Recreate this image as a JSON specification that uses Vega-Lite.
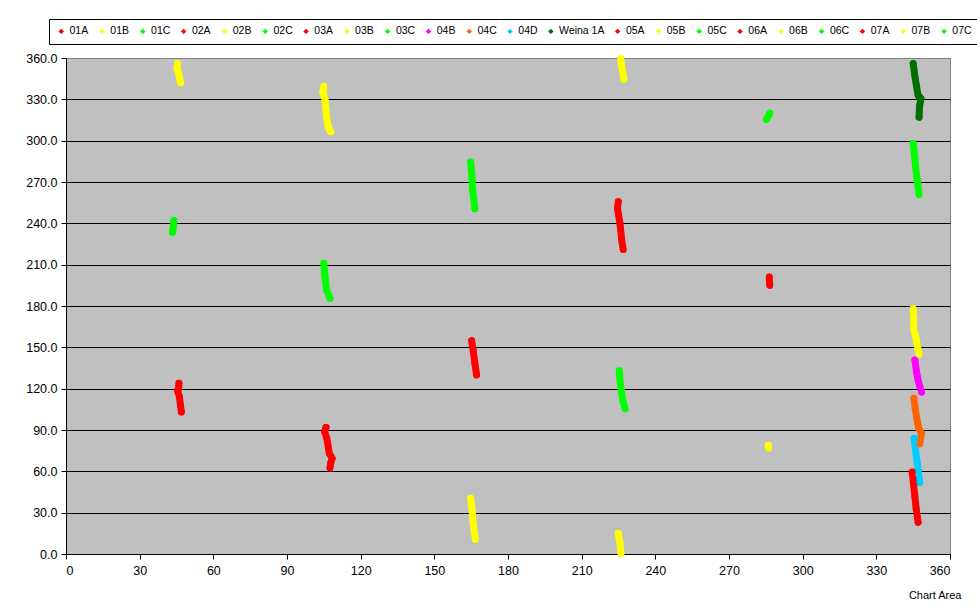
{
  "$schema": "https://vega.github.io/schema/vega-lite/v6.json",
  "width": 884,
  "height": 496,
  "autosize": {"type": "none"},
  "padding": {"left": 66, "top": 58, "right": 27, "bottom": 52},
  "background": "white",
  "config": {
    "view": {"fill": "#C0C0C0", "stroke": "#808080", "strokeWidth": 1},
    "font": "Liberation Sans"
  },
  "data": {"values": [
    {"s": "01A", "g": "01A", "x": 46.0, "y": 124},
    {"s": "01A", "g": "01A", "x": 45.9, "y": 121},
    {"s": "01A", "g": "01A", "x": 45.5, "y": 118},
    {"s": "01A", "g": "01A", "x": 46.2, "y": 114},
    {"s": "01A", "g": "01A", "x": 46.6, "y": 108},
    {"s": "01A", "g": "01A", "x": 47.0, "y": 103},
    {"s": "01B", "g": "01B", "x": 45.4, "y": 356},
    {"s": "01B", "g": "01B", "x": 45.2, "y": 352.5},
    {"s": "01B", "g": "01B", "x": 45.8, "y": 349},
    {"s": "01B", "g": "01B", "x": 46.3, "y": 345},
    {"s": "01B", "g": "01B", "x": 46.7, "y": 342},
    {"s": "01C", "g": "01C", "x": 43.9, "y": 242},
    {"s": "01C", "g": "01C", "x": 43.8, "y": 239},
    {"s": "01C", "g": "01C", "x": 43.6, "y": 236},
    {"s": "01C", "g": "01C", "x": 43.4, "y": 233.5},
    {"s": "02A", "g": "02A", "x": 105.9, "y": 92},
    {"s": "02A", "g": "02A", "x": 105.3, "y": 89},
    {"s": "02A", "g": "02A", "x": 106.2, "y": 84},
    {"s": "02A", "g": "02A", "x": 106.8, "y": 78},
    {"s": "02A", "g": "02A", "x": 107.2, "y": 73},
    {"s": "02A", "g": "02A", "x": 108.4, "y": 69.5},
    {"s": "02A", "g": "02A", "x": 107.8, "y": 66},
    {"s": "02A", "g": "02A", "x": 107.5, "y": 62.5},
    {"s": "02B", "g": "02B", "x": 105.0, "y": 339.5},
    {"s": "02B", "g": "02B", "x": 104.6, "y": 335.5},
    {"s": "02B", "g": "02B", "x": 105.5, "y": 329.5},
    {"s": "02B", "g": "02B", "x": 106.1, "y": 317.3},
    {"s": "02B", "g": "02B", "x": 106.8, "y": 310},
    {"s": "02B", "g": "02B", "x": 107.8, "y": 306.5},
    {"s": "02C", "g": "02C", "x": 105.0, "y": 211},
    {"s": "02C", "g": "02C", "x": 105.5, "y": 201.2},
    {"s": "02C", "g": "02C", "x": 106.1, "y": 191.6},
    {"s": "02C", "g": "02C", "x": 107.5, "y": 185.6},
    {"s": "03A", "g": "03A", "x": 165.2, "y": 154.8},
    {"s": "03A", "g": "03A", "x": 165.8, "y": 148},
    {"s": "03A", "g": "03A", "x": 166.5, "y": 138.4},
    {"s": "03A", "g": "03A", "x": 167.2, "y": 130},
    {"s": "03B", "g": "03B", "x": 164.8, "y": 40.4},
    {"s": "03B", "g": "03B", "x": 165.4, "y": 31.9},
    {"s": "03B", "g": "03B", "x": 165.8, "y": 22.3},
    {"s": "03B", "g": "03B", "x": 166.7, "y": 10.7},
    {"s": "03C", "g": "03C", "x": 164.8, "y": 284.5},
    {"s": "03C", "g": "03C", "x": 165.3, "y": 273.8},
    {"s": "03C", "g": "03C", "x": 165.6, "y": 264.2},
    {"s": "03C", "g": "03C", "x": 166.5, "y": 250.5},
    {"s": "04B", "g": "04B", "x": 345.7, "y": 140.8},
    {"s": "04B", "g": "04B", "x": 346.3, "y": 133},
    {"s": "04B", "g": "04B", "x": 347.0, "y": 126},
    {"s": "04B", "g": "04B", "x": 348.4, "y": 117.5},
    {"s": "04C", "g": "04C", "x": 345.3, "y": 113},
    {"s": "04C", "g": "04C", "x": 345.8, "y": 106},
    {"s": "04C", "g": "04C", "x": 346.5, "y": 98},
    {"s": "04C", "g": "04C", "x": 347.3, "y": 91},
    {"s": "04C", "g": "04C", "x": 348.4, "y": 87.6},
    {"s": "04C", "g": "04C", "x": 347.7, "y": 80},
    {"s": "04D", "g": "04D", "x": 345.4, "y": 84},
    {"s": "04D", "g": "04D", "x": 345.9, "y": 76},
    {"s": "04D", "g": "04D", "x": 346.6, "y": 67},
    {"s": "04D", "g": "04D", "x": 347.2, "y": 58},
    {"s": "04D", "g": "04D", "x": 347.7, "y": 52},
    {"s": "Weina 1A", "g": "Weina 1A", "x": 345.0, "y": 356},
    {"s": "Weina 1A", "g": "Weina 1A", "x": 345.6, "y": 348},
    {"s": "Weina 1A", "g": "Weina 1A", "x": 346.3, "y": 340},
    {"s": "Weina 1A", "g": "Weina 1A", "x": 347.0, "y": 333},
    {"s": "Weina 1A", "g": "Weina 1A", "x": 348.2, "y": 330.5},
    {"s": "Weina 1A", "g": "Weina 1A", "x": 347.6, "y": 325},
    {"s": "Weina 1A", "g": "Weina 1A", "x": 347.4, "y": 317},
    {"s": "05A", "g": "05A", "x": 224.9, "y": 255.7},
    {"s": "05A", "g": "05A", "x": 224.6, "y": 250.9},
    {"s": "05A", "g": "05A", "x": 225.6, "y": 240},
    {"s": "05A", "g": "05A", "x": 226.3, "y": 227.9},
    {"s": "05A", "g": "05A", "x": 226.9, "y": 221},
    {"s": "05B", "g": "05B top", "x": 225.9, "y": 359.5},
    {"s": "05B", "g": "05B top", "x": 226.3, "y": 354},
    {"s": "05B", "g": "05B top", "x": 226.9, "y": 348},
    {"s": "05B", "g": "05B top", "x": 227.2, "y": 344.5},
    {"s": "05B", "g": "05B bottom", "x": 224.9, "y": 15},
    {"s": "05B", "g": "05B bottom", "x": 225.6, "y": 7.8},
    {"s": "05B", "g": "05B bottom", "x": 226.0, "y": 0.5},
    {"s": "05C", "g": "05C", "x": 225.3, "y": 133},
    {"s": "05C", "g": "05C", "x": 225.6, "y": 126},
    {"s": "05C", "g": "05C", "x": 226.2, "y": 118},
    {"s": "05C", "g": "05C", "x": 226.8, "y": 111},
    {"s": "05C", "g": "05C", "x": 227.7, "y": 105.5},
    {"s": "06A", "g": "06A", "x": 286.4, "y": 201},
    {"s": "06A", "g": "06A", "x": 286.5, "y": 197.5},
    {"s": "06A", "g": "06A", "x": 286.6, "y": 195},
    {"s": "06B", "g": "06B", "x": 286.0, "y": 79},
    {"s": "06B", "g": "06B", "x": 286.1, "y": 77},
    {"s": "06C", "g": "06C", "x": 286.6, "y": 320},
    {"s": "06C", "g": "06C", "x": 286.0, "y": 317.5},
    {"s": "06C", "g": "06C", "x": 285.2, "y": 315.5},
    {"s": "07A", "g": "07A", "x": 344.6, "y": 59.5},
    {"s": "07A", "g": "07A", "x": 345.2, "y": 50},
    {"s": "07A", "g": "07A", "x": 345.7, "y": 42},
    {"s": "07A", "g": "07A", "x": 346.2, "y": 33},
    {"s": "07A", "g": "07A", "x": 346.7, "y": 27},
    {"s": "07A", "g": "07A", "x": 347.0, "y": 23},
    {"s": "07B", "g": "07B", "x": 345.0, "y": 178},
    {"s": "07B", "g": "07B", "x": 345.3, "y": 170},
    {"s": "07B", "g": "07B", "x": 345.1, "y": 164},
    {"s": "07B", "g": "07B", "x": 346.2, "y": 156},
    {"s": "07B", "g": "07B", "x": 346.9, "y": 149},
    {"s": "07B", "g": "07B", "x": 347.4, "y": 145},
    {"s": "07C", "g": "07C", "x": 345.0, "y": 298},
    {"s": "07C", "g": "07C", "x": 345.5, "y": 290},
    {"s": "07C", "g": "07C", "x": 346.0, "y": 281},
    {"s": "07C", "g": "07C", "x": 346.6, "y": 272},
    {"s": "07C", "g": "07C", "x": 347.4, "y": 261}
  ]},
  "encoding": {
    "x": {"field": "x", "type": "quantitative",
      "scale": {"domain": [0, 360], "nice": false, "zero": false},
      "axis": {"title": "Chart Area", "titleAnchor": null, "titleX": 895, "titleY": 44, "titleAlign": "right", "titleBaseline": "alphabetic",
        "titleFont": "Liberation Sans", "titleFontSize": 11, "titleFontWeight": "normal", "titleColor": "black",
        "values": [0, 30, 60, 90, 120, 150, 180, 210, 240, 270, 300, 330, 360], "format": "d", "grid": false,
        "domainColor": "black", "tickColor": "black", "tickSize": 5, "labelPadding": 5,
        "labelFont": "Liberation Sans", "labelFontSize": 12.5, "labelColor": "black"}},
    "y": {"field": "y", "type": "quantitative",
      "scale": {"domain": [0, 360], "nice": false, "zero": false},
      "axis": {"title": null, "values": [0, 30, 60, 90, 120, 150, 180, 210, 240, 270, 300, 330, 360], "format": ".1f", "grid": true,
        "gridColor": {"condition": {"test": "datum.value === 360", "value": "#808080"}, "value": "black"},
        "gridOpacity": 1, "gridWidth": 1,
        "domainColor": "black", "tickColor": "black", "tickSize": 5, "labelPadding": 4,
        "labelFont": "Liberation Sans", "labelFontSize": 12.5, "labelColor": "black"}},
    "color": {"field": "s", "type": "nominal",
      "scale": {
        "domain": ["01A", "01B", "01C", "02A", "02B", "02C", "03A", "03B", "03C", "04B", "04C", "04D", "Weina 1A", "05A", "05B", "05C", "06A", "06B", "06C", "07A", "07B", "07C"],
        "range": ["#FF0000", "#FFFF00", "#00FF00", "#FF0000", "#FFFF00", "#00FF00", "#FF0000", "#FFFF00", "#00FF00", "#FF00FF", "#FF6600", "#00CCFF", "#007000", "#FF0000", "#FFFF00", "#00FF00", "#FF0000", "#FFFF00", "#00FF00", "#FF0000", "#FFFF00", "#00FF00"]},
      "legend": {"title": null, "orient": "none", "legendX": -17, "legendY": -39, "direction": "horizontal", "columns": 22,
        "strokeColor": "black", "fillColor": "white", "padding": 7,
        "symbolType": "diamond", "symbolSize": 30, "symbolStrokeWidth": 0, "symbolOpacity": 1,
        "labelFont": "Liberation Sans", "labelFontSize": 10.5, "labelColor": "black", "labelOffset": 3, "columnPadding": 7.8, "labelLimit": 200}}
  },
  "layer": [
    {"mark": {"type": "line", "strokeWidth": 7, "strokeCap": "round", "strokeJoin": "round"},
      "encoding": {"detail": {"field": "g", "type": "nominal"}, "order": {"field": "y", "type": "quantitative", "sort": "descending"}}},
    {"mark": {"type": "point", "filled": true, "size": 45, "opacity": 1}}
  ]
}
